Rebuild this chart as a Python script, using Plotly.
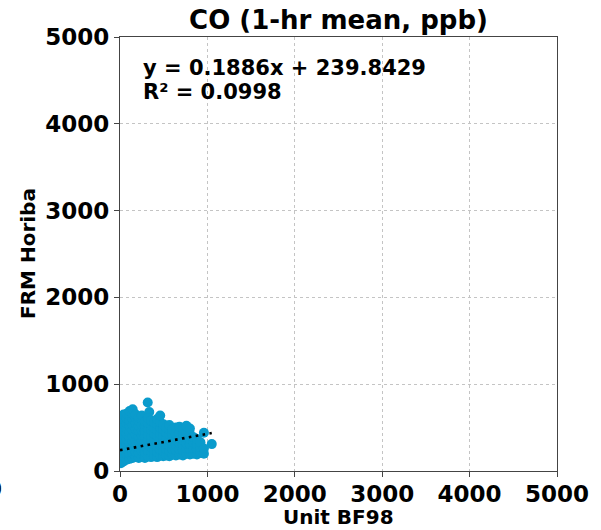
import plotly.graph_objects as go

# ---- data ----
x_vals = [
    10, 10, 10, 10, 10, 10, 10, 10, 10, 10,
    40, 40, 40, 40, 40, 40, 40, 40, 40, 40,
    75, 75, 75, 75, 75, 75, 75, 75, 75, 75,
    110, 110, 110, 110, 110, 110, 110, 110, 110, 110,
    145, 145, 145, 145, 145, 145, 145, 145, 145, 145,
    180, 180, 180, 180, 180, 180, 180, 180, 180,
    215, 215, 215, 215, 215, 215, 215, 215, 215,
    250, 250, 250, 250, 250, 250, 250, 250, 250,
    285, 285, 285, 285, 285, 285, 285, 285,
    317, 335,
    320, 320, 320, 320, 320, 320, 320, 320,
    355, 355, 355, 355, 355, 355, 355, 355,
    390, 390, 390, 390, 390, 390, 390,
    425, 425, 425, 425, 425, 425, 425, 425,
    460, 460, 460, 460, 460, 460, 460, 460,
    495, 495, 495, 495, 495, 495, 495,
    530, 530, 530, 530, 530, 530,
    565, 565, 565, 565, 565, 565, 565,
    600, 600, 600, 600, 600, 600,
    640, 640, 640, 640, 640, 640,
    680, 680, 680, 680, 680, 680,
    720, 720, 720, 720, 720, 720,
    760, 760, 760, 760, 760, 760,
    800, 800, 800, 800, 800, 800,
    840, 840, 840, 840,
    880, 880, 880, 880,
    920, 920, 920,
    960, 960, 960,
    1050,
]
y_vals = [
    90, 150, 210, 270, 330, 390, 450, 510, 570, 620,
    110, 170, 240, 300, 360, 420, 480, 540, 600, 650,
    130, 190, 250, 310, 370, 430, 490, 550, 610, 660,
    140, 200, 260, 330, 390, 450, 520, 580, 640, 690,
    150, 210, 280, 340, 400, 470, 530, 600, 660, 710,
    160, 220, 290, 350, 420, 480, 550, 610, 650,
    150, 210, 270, 340, 400, 460, 520, 580, 620,
    160, 230, 290, 350, 410, 470, 530, 590, 640,
    150, 220, 280, 340, 400, 460, 520, 570,
    790, 680,
    170, 230, 300, 360, 420, 490, 550, 610,
    160, 220, 280, 350, 410, 470, 530, 580,
    170, 240, 300, 360, 430, 500, 560,
    160, 220, 290, 350, 410, 470, 540, 600,
    180, 240, 300, 370, 430, 500, 560, 640,
    170, 230, 290, 350, 410, 480, 540,
    180, 250, 310, 370, 440, 500,
    170, 230, 290, 360, 420, 480, 530,
    190, 250, 310, 370, 430, 480,
    180, 240, 300, 360, 420, 500,
    190, 250, 320, 380, 440, 510,
    180, 240, 300, 360, 430, 490,
    200, 260, 320, 390, 450, 520,
    190, 250, 310, 370, 430, 490,
    200, 260, 330, 390,
    190, 250, 310, 370,
    210, 270, 330,
    200, 260, 440,
    310,
]

slope = 0.1886
intercept = 239.8429
r_squared = 0.0998
fit_x = [0, 1050]
fit_y = [slope * v + intercept for v in fit_x]

axis_ticks = [0, 1000, 2000, 3000, 4000, 5000]

title_text = "CO (1-hr mean, ppb)"
x_title = "Unit BF98"
y_title = "FRM Horiba"

FONT = "DejaVu Sans"
BLUE = "#0a9bcc"

fig = go.Figure()
fig.add_trace(go.Scatter(
    x=x_vals, y=y_vals, mode="markers",
    marker=dict(color=BLUE, size=10, line=dict(width=0)),
    showlegend=False, hoverinfo="skip",
))
fig.add_trace(go.Scatter(
    x=fit_x, y=fit_y, mode="lines",
    line=dict(color="black", width=2.6, dash="2.6px,4.4px"),
    showlegend=False, hoverinfo="skip",
))

axis_common = dict(
    range=[0, 5000], tickvals=axis_ticks, automargin=False,
    showline=True, linecolor="#444", linewidth=1.3, mirror=True,
    ticks="outside", ticklen=5, tickcolor="#444", tickwidth=1.3,
    showgrid=True, gridcolor="#c4c4c4", gridwidth=1, griddash="dot",
    zeroline=False,
    tickfont=dict(family=FONT, size=23, color="black", weight="bold"),
)

fig.update_layout(
    width=601, height=530,
    margin=dict(l=120, r=44, t=37, b=59),
    paper_bgcolor="white", plot_bgcolor="white",
    title=dict(text=title_text, x=0.5, xref="paper", xanchor="center",
               y=1 - 20 / 530, yref="container", yanchor="middle",
               font=dict(family=FONT, size=26, color="black", weight="bold")),
    xaxis=dict(**axis_common, ticklabelstandoff=-3),
    yaxis=dict(**axis_common),
)

title_font = dict(family=FONT, size=20, color="black", weight="bold")
fig.add_annotation(
    text=x_title, xref="paper", yref="paper",
    x=0.5, y=(471 - 517) / 434, xanchor="center", yanchor="middle",
    showarrow=False, font=title_font,
)
fig.add_annotation(
    text=y_title, xref="paper", yref="paper", textangle=-90,
    x=(28 - 120) / 437, y=0.5, xanchor="center", yanchor="middle",
    showarrow=False, font=title_font,
)

fig.add_annotation(
    text=f"y = {slope}x + {intercept}", xref="paper", yref="paper",
    x=(141 - 120) / 437, y=(471 - 68) / 434, xanchor="left", yanchor="middle",
    showarrow=False, font=dict(family=FONT, size=21, color="black", weight="bold"),
)
fig.add_annotation(
    text=f"R² = {r_squared}", xref="paper", yref="paper",
    x=(141 - 120) / 437, y=(471 - 92) / 434, xanchor="left", yanchor="middle",
    showarrow=False, font=dict(family=FONT, size=21, color="black", weight="bold"),
)
# clipped tick label of a neighbouring panel at the far left edge
fig.add_annotation(
    text="0", xref="paper", yref="paper",
    x=(-6 - 120) / 437, y=(471 - 489) / 434, xanchor="center", yanchor="middle",
    showarrow=False, font=dict(family=FONT, size=23, color="black", weight="bold"),
)

fig.write_html("out.html")
